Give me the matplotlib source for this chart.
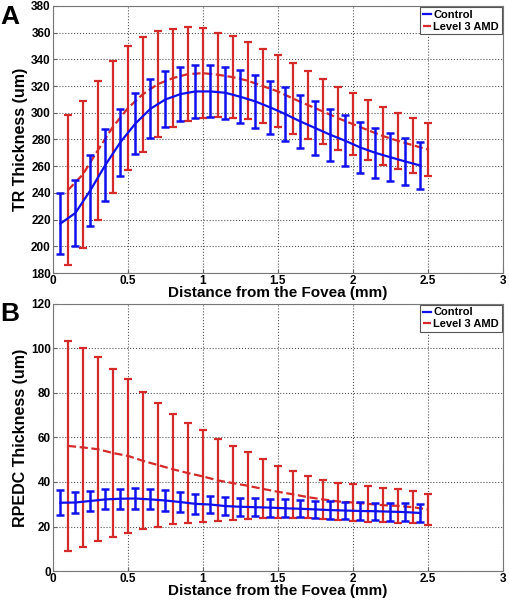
import numpy as np
import matplotlib.pyplot as plt
from matplotlib.lines import Line2D

plt.rcParams['font.family'] = ['Liberation Sans', 'DejaVu Sans']
plt.rcParams['font.weight'] = 'bold'
plt.rcParams['axes.labelweight'] = 'bold'

# distance from the fovea (mm)
x_ctrl = [0.05, 0.15, 0.25, 0.35, 0.45, 0.55, 0.65, 0.75, 0.85, 0.95, 1.05, 1.15, 1.25,
          1.35, 1.45, 1.55, 1.65, 1.75, 1.85, 1.95, 2.05, 2.15, 2.25, 2.35, 2.45]
x_amd = [0.1, 0.2, 0.3, 0.4, 0.5, 0.6, 0.7, 0.8, 0.9, 1.0, 1.1, 1.2, 1.3,
         1.4, 1.5, 1.6, 1.7, 1.8, 1.9, 2.0, 2.1, 2.2, 2.3, 2.4, 2.5]

# panel A - TR thickness
tr_ctrl = [217, 225, 242, 261, 278, 292, 303, 310, 314, 316, 316, 315, 312,
           308.5, 304, 299, 293.5, 288.5, 283.5, 279, 274, 270, 266.7, 263.5, 260.5]
tr_ctrl_sd = [23, 24.5, 26.5, 27, 25, 23, 22, 21, 20, 20, 19.5, 19.5, 20,
              20, 20, 20, 20, 20, 19.5, 19, 19, 18.5, 18, 17.5, 17.5]
tr_amd = [242, 254, 272, 289.5, 303.5, 314, 321.5, 326, 329, 329.7, 328.5, 326.7, 324,
          320, 316, 310.7, 305.8, 301, 296, 291.5, 287, 282.6, 279, 275.7, 272.5]
tr_amd_sd = [56, 55, 52, 49.5, 46.5, 43, 39.5, 37, 35, 33.5, 31.5, 30.5, 29,
             28, 27, 26.5, 25.5, 24.5, 23.5, 23, 22.5, 22, 21, 20.5, 20]

# panel B - RPEDC thickness
rp_ctrl = [30.7, 30.8, 31.5, 32.2, 32.5, 32.6, 32.2, 31.7, 31.0, 30.2, 29.9, 29.2, 28.9,
           28.7, 28.5, 28.2, 28.0, 27.7, 27.4, 27.2, 27.0, 26.9, 26.7, 26.5, 26.1]
rp_ctrl_sd = [5.7, 4.5, 4.3, 4.5, 4.5, 4.5, 4.5, 4.5, 4.4, 4.4, 3.9, 3.9, 4.0,
              4.0, 4.0, 4.0, 3.9, 3.9, 4.0, 3.9, 4.0, 3.9, 4.0, 4.0, 3.9]
rp_amd = [56.2, 55.5, 54.7, 53.0, 51.7, 49.5, 47.6, 45.7, 44.0, 42.5, 40.7, 39.5, 38.3,
          36.9, 35.6, 34.5, 33.2, 32.2, 31.3, 30.8, 30.2, 29.6, 29.3, 28.7, 27.7]
rp_amd_sd = [47.2, 44.5, 41.3, 37.6, 34.5, 30.8, 27.7, 24.7, 22.6, 20.6, 18.4, 16.5, 15.0,
             13.2, 11.6, 10.5, 9.5, 8.7, 8.4, 8.1, 8.0, 7.7, 7.5, 7.2, 7.0]

blue = '#1010ee'
red = '#d42a2a'

fig = plt.figure(figsize=(5.09, 6.0), dpi=100)
axA = fig.add_axes([0.104, 0.545, 0.884, 0.445])
axB = fig.add_axes([0.104, 0.048, 0.884, 0.446])

panels = [(axA, tr_ctrl, tr_ctrl_sd, tr_amd, tr_amd_sd, 'TR Thickness (um)', (180, 380), 20, 'A'),
          (axB, rp_ctrl, rp_ctrl_sd, rp_amd, rp_amd_sd, 'RPEDC Thickness (um)', (0, 120), 20, 'B')]

for ax, c, csd, a, asd, ylab, ylim, step, letter in panels:
    ax.errorbar(x_amd, a, yerr=asd, color=red, ecolor=red, ls='--', lw=1.6,
                elinewidth=1.6, capsize=3, capthick=1.6, zorder=3)
    ax.errorbar(x_ctrl, c, yerr=csd, color=blue, ecolor=blue, ls='-', lw=1.6,
                elinewidth=1.8, capsize=3, capthick=1.8, zorder=4)
    ax.set_xlim(0, 3)
    ax.set_ylim(*ylim)
    ax.set_xticks(np.arange(0, 3.01, 0.5))
    ax.set_xticklabels(['0', '0.5', '1', '1.5', '2', '2.5', '3'])
    ax.set_yticks(np.arange(ylim[0], ylim[1] + 1, step))
    ax.tick_params(direction='in', labelsize=8.5, length=3, pad=1.5, color='#666666')
    for t in ax.get_xticklabels() + ax.get_yticklabels():
        t.set_fontweight('bold')
    ax.grid(True, ls=':', color='#555555', lw=0.8)
    for s in ax.spines.values():
        s.set_color('#777777')
    ax.set_xlabel('Distance from the Fovea (mm)', fontsize=11, fontweight='bold', labelpad=-1)
    ax.set_ylabel(ylab, fontsize=11.5, fontweight='bold', labelpad=2)
    handles = [Line2D([], [], color=blue, lw=1.6, ls='-'),
               Line2D([], [], color=red, lw=1.6, ls='--')]
    leg = ax.legend(handles, ['Control', 'Level 3 AMD'], loc='upper right',
                    handlelength=0.7, handletextpad=0.2, borderpad=0.25, labelspacing=0.15,
                    borderaxespad=0.1, fancybox=False, framealpha=1,
                    prop={'weight': 'bold', 'size': 8})
    leg.get_frame().set_edgecolor('#555555')
    leg.get_frame().set_linewidth(0.8)
    fig.text(0.0, ax.get_position().y1 + 0.002, letter, fontsize=19, fontweight='bold',
             va='top', ha='left')

fig.savefig('out.png', dpi=100)
